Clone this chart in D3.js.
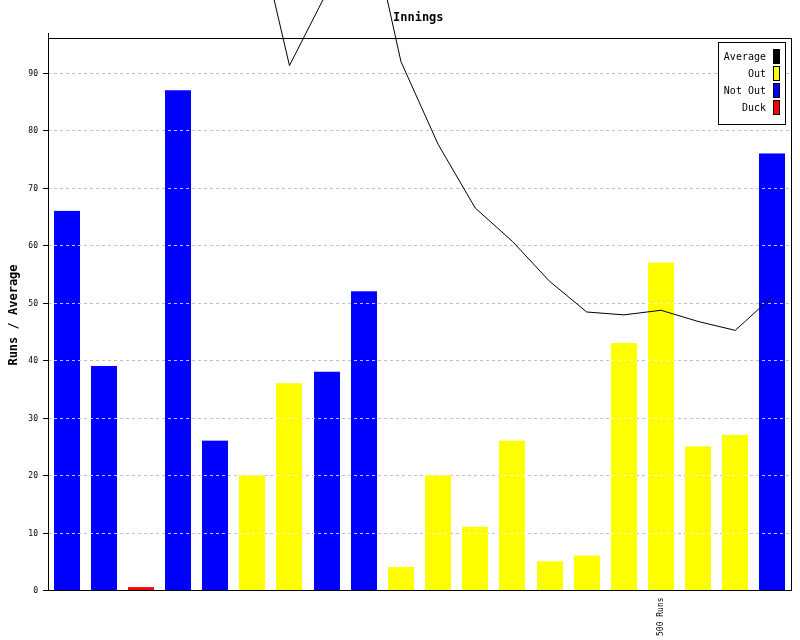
<!DOCTYPE html>
<html><head><meta charset="utf-8">
<script src="https://cdn.jsdelivr.net/npm/d3@7"></script>
<style>body{margin:0;background:#fff}svg{display:block}</style>
</head><body>
<svg id="c" width="800" height="640"></svg>
<script>
const innings = d3.range(1, 21);
const runs = [66, 39, 0.5, 87, 26, 20, 36, 38, 52, 4, 20, 11, 26, 5, 6, 43, 57, 25, 27, 76];
const status = ["Not Out","Not Out","Duck","Not Out","Not Out","Out","Out","Not Out","Not Out","Out","Out","Out","Out","Out","Out","Out","Out","Out","Out","Not Out"];
const average = [null, null, 105, 192, 218, 119, 91.3, 104, 121.3, 92, 77.6, 66.5, 60.7, 53.75, 48.4, 47.9, 48.7, 46.75, 45.2, 51.1];
const yTicks = [0, 10, 20, 30, 40, 50, 60, 70, 80, 90];
const milestoneLabels = [{inn: 17, text: "500 Runs"}];
const legendItems = [{k:"Average", c:"#000000"},{k:"Out", c:"#ffff00"},{k:"Not Out", c:"#0000ff"},{k:"Duck", c:"#ff0000"}];
const colors = {"Out":"#ffff00","Not Out":"#0000ff","Duck":"#ff0000"};

const L = 48, R = 791, T = 38, B = 590;
const svg = d3.select("#c");
const font = "'DejaVu Sans Mono', 'Liberation Mono', monospace";

const x = d3.scaleBand().domain(innings).range([L, R]).paddingInner(0.3).paddingOuter(0.15);
const y = d3.scaleLinear().domain([0, 96.1]).range([B, T]);

// gridlines behind
const gridG = svg.append("g");
gridG.selectAll("line").data(yTicks.filter(t => t > 0)).join("line")
  .attr("x1", L).attr("x2", R).attr("y1", d => Math.round(y(d))+0.5).attr("y2", d => Math.round(y(d))+0.5)
  .attr("stroke", "#c0c0c0").attr("stroke-dasharray", "3,3");

// bars
svg.append("g").selectAll("rect").data(innings).join("rect")
  .attr("x", d => Math.round(x(d))).attr("width", Math.round(x.bandwidth()))
  .attr("y", (d,i) => y(runs[i])).attr("height", (d,i) => B - y(runs[i]))
  .attr("fill", (d,i) => colors[status[i]]);

// gridlines over bars (lighten)
svg.append("g").style("mix-blend-mode", "lighten").selectAll("line").data(yTicks.filter(t => t > 0)).join("line")
  .attr("x1", L).attr("x2", R).attr("y1", d => Math.round(y(d))+0.5).attr("y2", d => Math.round(y(d))+0.5)
  .attr("stroke", "#c0c0c0").attr("stroke-dasharray", "3,3");

// axes frame
const yAxis = d3.axisLeft(y).tickValues(yTicks).tickSize(5).tickPadding(5).tickFormat(d3.format("d"));
const yg = svg.append("g").attr("transform", `translate(${L},0)`).call(yAxis);
yg.select(".domain").remove();
yg.selectAll(".tick").attr("transform", d => `translate(0,${Math.round(y(d))+0.5})`);
yg.selectAll("line").attr("stroke", "#000");
yg.selectAll("text").attr("font-family", font).attr("font-size", 8).attr("fill", "#000");
svg.append("line").attr("x1", L+0.5).attr("x2", L+0.5).attr("y1", 33).attr("y2", B).attr("stroke", "#000");
svg.append("line").attr("x1", 43).attr("x2", R).attr("y1", B+0.5).attr("y2", B+0.5).attr("stroke", "#000");
svg.append("line").attr("x1", L).attr("x2", R).attr("y1", T+0.5).attr("y2", T+0.5).attr("stroke", "#000");
svg.append("line").attr("x1", R+0.5).attr("x2", R+0.5).attr("y1", T).attr("y2", B+1).attr("stroke", "#000");

// average line
const line = d3.line().defined(d => d.v !== null)
  .x(d => x(d.i) + x.bandwidth()/2).y(d => y(d.v));
svg.append("path").datum(innings.map((d,i) => ({i:d, v:average[i]})))
  .attr("d", line).attr("fill", "none").attr("stroke", "#000").attr("stroke-width", 1);

// milestone labels
svg.append("g").selectAll("text").data(milestoneLabels).join("text")
  .attr("transform", d => `translate(${x(d.inn) + x.bandwidth()/2 + 2},${636}) rotate(-90)`)
  .attr("font-family", font).attr("font-size", 8).attr("fill", "#000").text(d => d.text);

// title
svg.append("text").attr("x", 393).attr("y", 21).attr("font-family", font).attr("font-weight", "bold")
  .attr("font-size", 12).attr("fill", "#000").text("Innings");

// y title
svg.append("text").attr("transform", "translate(17,315) rotate(-90)").attr("text-anchor", "middle")
  .attr("font-family", font).attr("font-weight", "bold").attr("font-size", 12).attr("fill", "#000").text("Runs / Average");

// legend
const lg = svg.append("g");
lg.append("rect").attr("x", 718.5).attr("y", 42.5).attr("width", 67).attr("height", 82)
  .attr("fill", "#fff").attr("stroke", "#000");
const li = lg.selectAll("g").data(legendItems).join("g")
  .attr("transform", (d,i) => `translate(0,${49 + i*17})`);
li.append("rect").attr("x", 773.5).attr("y", 0.5).attr("width", 6).attr("height", 14)
  .attr("fill", d => d.c).attr("stroke", "#000");
li.append("text").attr("x", 766).attr("y", 11).attr("text-anchor", "end")
  .attr("font-family", font).attr("font-size", 10).attr("fill", "#000").text(d => d.k);
</script>
</body></html>
